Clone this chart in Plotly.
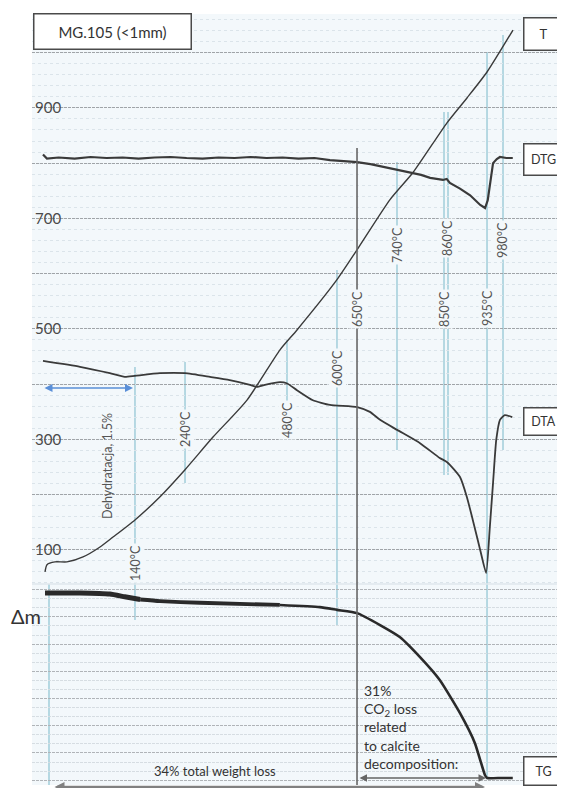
import plotly.graph_objects as go

# ---------------- data ----------------
# time axis in minutes (arbitrary scale of the recorder run)
time_T = [2.44, 2.81, 4.32, 6.57, 9.57, 12.76, 15.20, 19.32, 24.02, 28.71, 33.96, 40.34,
          46.53, 49.72, 57.22, 60.98, 67.17, 71.48, 77.86, 81.61, 85.37, 90.24]
temp_T = [60, 73, 78, 78, 87, 105, 123, 154, 196, 245, 304, 371,
          462, 498, 589, 643, 734, 783, 873, 918, 965, 1041]

time_dtg = [2.06, 2.8, 5, 8, 11, 14, 17, 20, 23, 26, 29, 32, 35, 38, 41, 44, 47, 50, 53,
            55.9, 58.5, 61.0, 63.5, 65.3, 67.0, 68.5, 70.0, 71.5, 73.0, 74.7, 76.0, 77.1,
            77.8, 78.4, 80.3, 82.2, 84.1, 85.0, 85.5, 85.9, 86.5, 87.2, 87.8, 89.0, 90.2]
dtg = [0.05, -0.03, -0.01, -0.03, 0.00, -0.02, -0.01, -0.03, -0.01, 0.00, -0.02, -0.03,
       -0.01, -0.02, 0.00, -0.02, -0.01, -0.03, -0.02, -0.06, -0.08, -0.10, -0.14, -0.18,
       -0.21, -0.25, -0.27, -0.31, -0.35, -0.41, -0.43, -0.45, -0.43, -0.51, -0.62, -0.75,
       -0.94, -1.00, -0.85, -0.59, -0.12, -0.04, 0.00, -0.02, -0.02]

time_dta = [2.06, 9.0, 14.6, 17.4, 19.3, 24.0, 28.7, 33.4, 37.1, 40.9, 42.2, 43.7, 46.5,
            47.8, 49.7, 52.7, 55.9, 61.0, 63.4, 65.3, 68.5, 72.8, 76.5, 77.9, 80.3, 81.6,
            82.7, 84.1, 85.2, 85.9, 86.5, 87.1, 87.8, 88.7, 90.1]
dta = [0, -1.1, -2.3, -3.0, -2.8, -2.3, -2.3, -3.0, -3.6, -4.5, -4.9, -4.5, -4.0,
       -4.2, -5.5, -7.4, -8.3, -8.7, -9.6, -11.1, -13.0, -15.5, -18.3, -19.1, -21.9, -25.7,
       -30.0, -35.7, -40.0, -31.3, -23.0, -14.9, -11.1, -10.2, -10.6]

time_tg = [2.44, 9.0, 14.6, 17.4, 20.3, 24.0, 31.5, 46.5, 54.0, 57.2, 61.0, 65.3, 69.0,
           72.8, 76.5, 80.3, 83.1, 85.0, 85.4, 88.0, 90.2]
tg = [100, 100, 99.8, 99.3, 98.8, 98.5, 98.2, 97.8, 97.4, 96.9, 96.3, 94.1, 91.9,
      88.2, 84.0, 77.9, 72.4, 66.5, 66.0, 66.0, 66.0]

event_labels = ["140°C", "240°C", "480°C", "600°C", "650°C", "740°C",
                "850°C", "860°C", "935°C", "980°C"]
event_time = [19.32, 28.71, 47.84, 57.22, 60.98, 68.48, 77.30, 78.05, 85.37, 88.37]

temp_ticks = [100, 200, 300, 400, 500, 600, 700, 800, 900, 1000]
temp_tick_text = ["100", "", "300", "", "500", "", "700", "", "900", ""]

# ---------------- layout helpers ----------------
# the page body adds an 8px margin on every side
W, H = 549, 780
ML, MT, MB = 24, 6, 3
PH = H - MT - MB          # 771
PW = W - ML               # 525
PLOT_BOTTOM = 785         # picture pixel of the plot-area bottom


def py(ypx):               # picture y pixel -> paper fraction
    return (PLOT_BOTTOM - ypx) / PH


def px(xpx):               # picture x pixel -> paper fraction
    return (xpx - 32) / PW


BG = "#f3f8fb"
INK = "#3a3a3a"
BLUE_LINE = "#a6d0dc"
FONT = "Lato"

split = py(584)

fig = go.Figure()

fig.add_trace(go.Scatter(x=time_T, y=temp_T, mode="lines", yaxis="y",
                         line=dict(color=INK, width=1.4, shape="spline", smoothing=0.6),
                         showlegend=False, hoverinfo="skip"))
fig.add_trace(go.Scatter(x=time_dtg, y=dtg, mode="lines", yaxis="y3",
                         line=dict(color=INK, width=2.2), showlegend=False))
fig.add_trace(go.Scatter(x=time_dta, y=dta, mode="lines", yaxis="y4",
                         line=dict(color=INK, width=1.8, shape="spline", smoothing=0.5),
                         showlegend=False))
fig.add_trace(go.Scatter(x=time_tg[:5], y=tg[:5], mode="lines", yaxis="y2",
                         line=dict(color="#2a2a2a", width=5, shape="spline", smoothing=0.5),
                         showlegend=False))
fig.add_trace(go.Scatter(x=time_tg[4:8], y=tg[4:8], mode="lines", yaxis="y2",
                         line=dict(color="#2a2a2a", width=3.8, shape="spline", smoothing=0.5),
                         showlegend=False))
fig.add_trace(go.Scatter(x=time_tg[7:], y=tg[7:], mode="lines", yaxis="y2",
                         line=dict(color="#2a2a2a", width=2.6, shape="spline", smoothing=0.5),
                         showlegend=False))

# vertical event lines: (top px, bottom px, label centre px)
event_geom = [(367, 620, 563), (362, 483, 429), (340, 437, 420), (270, 625, 368),
              (148, 785, 309), (162, 450, 245), (112, 475, 309), (112, 475, 238),
              (52, 778, 308), (35, 450, 240)]

shapes = []
annotations = []
for lab, t, (top, bot, mid) in zip(event_labels, event_time, event_geom):
    col = "#666666" if lab == "650°C" else BLUE_LINE
    shapes.append(dict(type="line", xref="x", yref="paper", x0=t, x1=t,
                       y0=py(bot), y1=py(top), line=dict(color=col, width=1.6),
                       layer="above" if lab == "650°C" else "between"))
    annotations.append(dict(text=lab, x=t, xref="x", y=py(mid), yref="paper",
                            xanchor="center", yanchor="middle",
                            showarrow=False, textangle=-90, bgcolor=BG, borderpad=1,
                            font=dict(family=FONT, size=12.5, color="#555")))

# left boundary line in TG panel
shapes.append(dict(type="line", xref="paper", yref="paper", x0=px(49), x1=px(49),
                   y0=0, y1=split, line=dict(color=BLUE_LINE, width=1.6),
                   layer="between"))
# panel separator
shapes.append(dict(type="line", xref="paper", yref="paper", x0=0, x1=1,
                   y0=split, y1=split, line=dict(color="#dfe7ec", width=1.5),
                   layer="between"))


def box(text, xc, yc, w, h, size):
    return dict(text=text, x=px(xc), y=py(yc), xref="paper", yref="paper",
                xanchor="center", yanchor="middle",
                showarrow=False, width=w, height=h, bgcolor="white",
                bordercolor="#4a4a4a", borderwidth=1.5, borderpad=2,
                font=dict(family=FONT, size=size, color="#333"))


annotations.append(box("MG.105 (&lt;1mm)", 112, 31.5, 152, 30, 15))
annotations.append(box("T", 543, 33.5, 34, 27, 13))
annotations.append(box("DTG", 543, 159, 34, 26, 12.5))
annotations.append(box("DTA", 543, 421, 34, 22, 12.5))
annotations.append(box("TG", 543, 771, 34, 23, 12.5))

annotations.append(dict(text="Δm", x=px(26), y=py(616), xref="paper", yref="paper",
                        xanchor="center", yanchor="middle", showarrow=False,
                        font=dict(family=FONT, size=20, color="#333")))
annotations.append(dict(text="Dehydratacja, 1.5%", x=px(107), y=py(466), xref="paper",
                        yref="paper", xanchor="center", yanchor="middle",
                        showarrow=False, textangle=-90,
                        font=dict(family=FONT, size=12.5, color="#555")))
annotations.append(dict(text="31%<br>CO<sub>2</sub> loss<br>related<br>to calcite<br>decomposition:",
                        x=px(362), y=py(727), xref="paper", yref="paper", xanchor="left",
                        yanchor="middle", align="left", showarrow=False,
                        font=dict(family=FONT, size=14, color="#333")))
annotations.append(dict(text="34% total weight loss", x=px(215), y=py(771), xref="paper",
                        yref="paper", xanchor="center", yanchor="middle", showarrow=False,
                        font=dict(family=FONT, size=13, color="#333")))

# arrows
annotations.append(dict(text="", x=px(133), y=py(388), xref="paper", yref="paper",
                        ax=-90, ay=0, showarrow=True, arrowside="end+start", arrowhead=2,
                        arrowsize=1, arrowwidth=1.6, arrowcolor="#5a8fd8"))
annotations.append(dict(text="", x=px(486), y=py(778), xref="paper", yref="paper",
                        ax=-128, ay=0, showarrow=True, arrowside="end+start", arrowhead=2,
                        arrowsize=1, arrowwidth=1.5, arrowcolor="#666"))
annotations.append(dict(text="", x=px(485), y=py(787), xref="paper", yref="paper",
                        ax=-432, ay=0, showarrow=True, arrowside="end+start", arrowhead=2,
                        arrowsize=0.8, arrowwidth=2.5, arrowcolor="#808080"))

fig.update_layout(
    width=W, height=H, margin=dict(l=ML, r=0, t=MT, b=MB, autoexpand=False),
    paper_bgcolor="white", plot_bgcolor=BG, showlegend=False,
    font=dict(family=FONT, color="#444"),
    xaxis=dict(range=[0, PW / 5.33], showgrid=False, zeroline=False, showticklabels=False,
               ticks="", showline=False, anchor="y2"),
    yaxis=dict(domain=[split, 1], range=[38, 1070], tickvals=temp_ticks,
               ticktext=temp_tick_text, ticklabelposition="inside", ticks="",
               tickfont=dict(family=FONT, size=15, color="#4a4a4a"),
               showgrid=True, gridcolor="#a0a4a8", griddash="3px,1px", gridwidth=1.2,
               zeroline=False, showline=False,
               minor=dict(dtick=20, tick0=0, showgrid=True, gridcolor="#dbe4ea",
                          griddash="dot", gridwidth=1)),
    yaxis3=dict(overlaying="y", range=[-8.373, 2.804], visible=False),
    yaxis4=dict(overlaying="y", range=[-42.08, 65.47], visible=False),
    yaxis2=dict(domain=[0, split], range=[64.71, 101.65], showticklabels=False,
                ticks="", zeroline=False, showline=False, tick0=95.6, dtick=5,
                showgrid=True, gridcolor="#b0b4b8", griddash="3px,1px", gridwidth=1.2,
                minor=dict(dtick=5 / 3, tick0=95.6, showgrid=True, gridcolor="#d6dde2",
                           griddash="3px,1px", gridwidth=1)),
    shapes=shapes, annotations=annotations,
)

fig.write_html("out.html")
